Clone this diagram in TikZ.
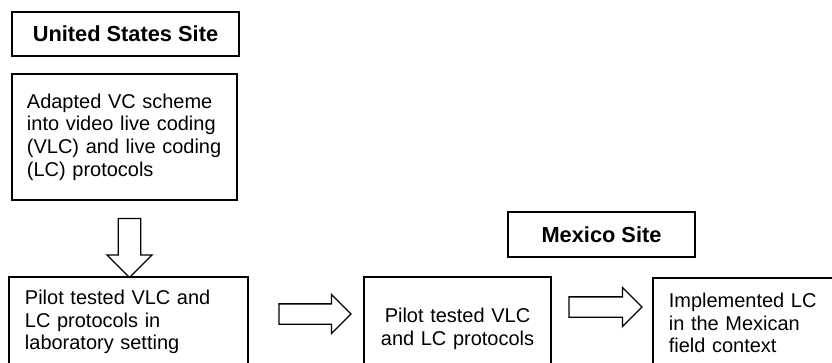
\documentclass[tikz,border=0pt]{standalone}
\usepackage{fontspec}
\setmainfont{Liberation Sans}
\usetikzlibrary{shapes}
\usetikzlibrary{shapes.arrows}

\begin{document}
\begin{tikzpicture}[x = 0.025cm, y = -0.025cm]
	\tikzstyle{siteStyle} = [shape = rectangle, draw, line width = 1.2pt, inner sep = 0pt, font = \fontsize{15.5}{18}\selectfont\bfseries]
	\tikzstyle{stepStyle} = [shape = rectangle, draw, line width = 1.2pt, inner sep = 0pt, font = \fontsize{14.2}{16.15}\selectfont]
	\tikzstyle{fatArrow} = [single arrow, draw, line width = 0.9pt, single arrow head indent = 0pt, text height = 0pt, text depth = 0pt]
	\clip (0, 0) rectangle (832, 362);
	% United States side
	\node[siteStyle, minimum width = 5.675cm, minimum height = 1.1cm] (usSite) at (125.5, 34) {United States Site};
	\node[stepStyle, minimum width = 5.625cm, minimum height = 3.15cm, text width = 4.875cm, align = left] (adapt) at (124.5, 137)
		{Adapted VC scheme\\into video live coding\\(VLC) and live coding\\(LC) protocols};
	\node[stepStyle, minimum width = 5.975cm, minimum height = 2.25cm, text width = 5.175cm, align = left] (labTest) at (128.5, 322)
		{Pilot tested VLC and\\LC protocols in\\laboratory setting};
	% Mexico side
	\node[siteStyle, minimum width = 4.675cm, minimum height = 1.125cm] (mxSite) at (601.5, 234.5) {Mexico Site};
	\node[stepStyle, minimum width = 4.675cm, minimum height = 2.575cm, text width = 4cm, align = center] (mxTest) at (457.5, 328.5)
		{Pilot tested VLC\\and LC protocols};
	\node[stepStyle, anchor = north west, minimum width = 6cm, minimum height = 2.25cm, text width = 5.2cm, align = left] (mxField) at (652, 277)
		{Implemented LC\\in the Mexican\\field context};
	% block arrows
	\node[fatArrow, shape border rotate = 270, inner sep = 0.2625cm, single arrow head extend = 0.2875cm, minimum height = 1.475cm] (arrDown) at (129.5, 242.5) {};
	\node[fatArrow, inner sep = 0.2375cm, single arrow head extend = 0.2375cm, minimum height = 1.8cm] (arrLab) at (310, 314) {};
	\node[fatArrow, inner sep = 0.2375cm, single arrow head extend = 0.2375cm, minimum height = 1.825cm] (arrField) at (600.5, 307) {};
\end{tikzpicture}
\end{document}
